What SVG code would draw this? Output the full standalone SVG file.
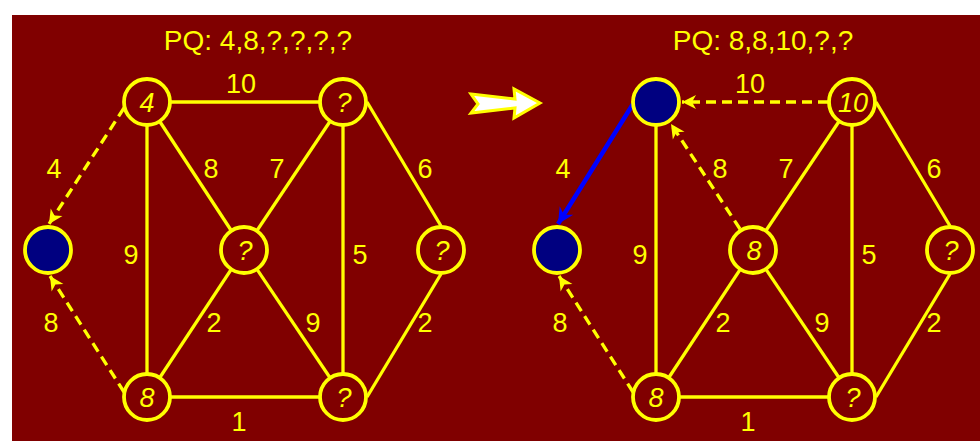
<svg xmlns="http://www.w3.org/2000/svg" width="980" height="441" viewBox="0 0 980 441">
<defs>
<style>
.bg{fill:#800000}
.e{stroke:#ffff00;stroke-width:3.3;fill:none}
.d{stroke:#ffff00;stroke-width:3.3;fill:none;stroke-dasharray:10,6}
.b{stroke:#0000ff;stroke-width:4.5;fill:none}
.n{fill:#800000;stroke:#ffff00;stroke-width:3.8}
.v{fill:#000080;stroke:#ffff00;stroke-width:3.8}
.t{font-family:"Liberation Sans",Arial,sans-serif;font-size:27px;fill:#ffff00;text-anchor:middle}
.h{font-family:"Liberation Sans",Arial,sans-serif;font-size:28px;fill:#ffff00;text-anchor:middle}
.i{font-family:"Liberation Sans",Arial,sans-serif;font-size:27px;font-style:italic;fill:#ffff00;text-anchor:middle}
</style>
<marker id="ay" markerUnits="userSpaceOnUse" markerWidth="18" markerHeight="18" viewBox="-16 -9 18 18" refX="0" refY="0" orient="auto">
<path d="M0,0 L-14,-7 L-10,0 L-14,7 Z" fill="#ffff00"/>
</marker>
<marker id="ab" markerUnits="userSpaceOnUse" markerWidth="20" markerHeight="20" viewBox="-18 -10 20 20" refX="0" refY="0" orient="auto">
<path d="M0,0 L-16,-8 L-11,0 L-16,8 Z" fill="#0000ff"/>
</marker>
</defs>
<rect class="bg" x="12" y="15" width="968" height="426"/>
<text class="h" x="258" y="50">PQ: 4,8,?,?,?,?</text>
<text class="h" x="763" y="50">PQ: 8,8,10,?,?</text>
<polygon id="bigarrow" points="471,94 515,99 514,89 540,103 514,118 515,108 471,113 478,104" fill="#ffffff" stroke="#ffff00" stroke-width="3" stroke-linejoin="miter"/>
<g id="connectors">
<line class="e" x1="147" y1="102" x2="343" y2="102"/>
<line class="e" x1="147" y1="102" x2="147" y2="397"/>
<line class="e" x1="147" y1="102" x2="244" y2="250"/>
<line class="e" x1="343" y1="102" x2="244" y2="250"/>
<line class="e" x1="343" y1="102" x2="343" y2="397"/>
<line class="e" x1="367" y1="102" x2="441" y2="226"/>
<line class="e" x1="441" y1="274" x2="367" y2="397"/>
<line class="e" x1="244" y1="250" x2="147" y2="397"/>
<line class="e" x1="244" y1="250" x2="343" y2="397"/>
<line class="e" x1="147" y1="397" x2="343" y2="397"/>
<line class="d" x1="124" y1="108" x2="49" y2="224" marker-end="url(#ay)"/>
<line class="d" x1="124" y1="392" x2="50" y2="276" marker-end="url(#ay)"/>
<line class="d" x1="828" y1="102" x2="682" y2="102" marker-end="url(#ay)"/>
<line class="e" x1="656" y1="102" x2="656" y2="397"/>
<line class="d" x1="740" y1="229" x2="671" y2="124" marker-end="url(#ay)"/>
<line class="e" x1="852" y1="102" x2="753" y2="250"/>
<line class="e" x1="852" y1="102" x2="852" y2="397"/>
<line class="e" x1="876" y1="102" x2="950" y2="226"/>
<line class="e" x1="950" y1="274" x2="876" y2="397"/>
<line class="e" x1="753" y1="250" x2="656" y2="397"/>
<line class="e" x1="753" y1="250" x2="852" y2="397"/>
<line class="e" x1="656" y1="397" x2="852" y2="397"/>
<line class="b" x1="633" y1="104" x2="558" y2="224" marker-end="url(#ab)"/>
<line class="d" x1="633" y1="392" x2="559" y2="276" marker-end="url(#ay)"/>
</g>
<g id="edge-labels">
<text class="t" x="241" y="93">10</text>
<text class="t" x="54" y="178">4</text>
<text class="t" x="211" y="178">8</text>
<text class="t" x="277" y="178">7</text>
<text class="t" x="425" y="178">6</text>
<text class="t" x="131" y="264">9</text>
<text class="t" x="360" y="264">5</text>
<text class="t" x="51" y="332">8</text>
<text class="t" x="214" y="332">2</text>
<text class="t" x="313" y="332">9</text>
<text class="t" x="425" y="332">2</text>
<text class="t" x="239" y="431">1</text>
<text class="t" x="750" y="93">10</text>
<text class="t" x="563" y="178">4</text>
<text class="t" x="720" y="178">8</text>
<text class="t" x="786" y="178">7</text>
<text class="t" x="934" y="178">6</text>
<text class="t" x="640" y="264">9</text>
<text class="t" x="869" y="264">5</text>
<text class="t" x="560" y="332">8</text>
<text class="t" x="723" y="332">2</text>
<text class="t" x="822" y="332">9</text>
<text class="t" x="934" y="332">2</text>
<text class="t" x="748" y="431">1</text>
</g>
<g id="L-A"><circle class="n" cx="147" cy="102" r="23"/><text class="i" x="147" y="112">4</text></g>
<g id="L-B"><circle class="n" cx="343" cy="102" r="23"/><text class="i" x="344" y="112">?</text></g>
<g id="L-S"><circle class="v" cx="48" cy="250" r="23"/></g>
<g id="L-C"><circle class="n" cx="244" cy="250" r="23"/><text class="i" x="245" y="260">?</text></g>
<g id="L-R"><circle class="n" cx="441" cy="250" r="23"/><text class="i" x="442" y="260">?</text></g>
<g id="L-D"><circle class="n" cx="147" cy="397" r="23"/><text class="i" x="147" y="407">8</text></g>
<g id="L-E"><circle class="n" cx="343" cy="397" r="23"/><text class="i" x="344" y="407">?</text></g>
<g id="R-A"><circle class="v" cx="656" cy="102" r="23"/></g>
<g id="R-B"><circle class="n" cx="852" cy="102" r="23"/><text class="i" x="853" y="112">10</text></g>
<g id="R-S"><circle class="v" cx="557" cy="250" r="23"/></g>
<g id="R-C"><circle class="n" cx="753" cy="250" r="23"/><text class="i" x="754" y="260">8</text></g>
<g id="R-R"><circle class="n" cx="950" cy="250" r="23"/><text class="i" x="951" y="260">?</text></g>
<g id="R-D"><circle class="n" cx="656" cy="397" r="23"/><text class="i" x="656" y="407">8</text></g>
<g id="R-E"><circle class="n" cx="852" cy="397" r="23"/><text class="i" x="853" y="407">?</text></g>
</svg>
